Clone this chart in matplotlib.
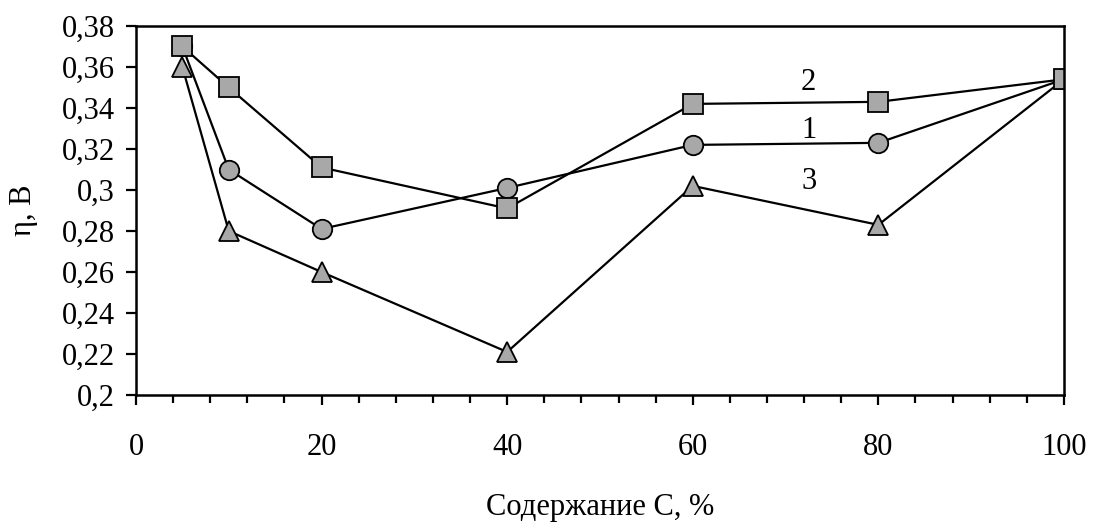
import matplotlib
matplotlib.use('Agg')
import matplotlib.pyplot as plt
from matplotlib.ticker import MultipleLocator, FuncFormatter

plt.rcParams['font.family'] = ['Liberation Serif', 'DejaVu Serif']

x = [5, 10, 20, 40, 60, 80, 100]
eta1 = [0.37, 0.31, 0.281, 0.301, 0.322, 0.323, 0.354]
eta2 = [0.37, 0.35, 0.311, 0.291, 0.342, 0.343, 0.354]
eta3 = [0.36, 0.28, 0.26, 0.221, 0.302, 0.283, 0.354]
labels = ['1', '2', '3']
label_pos = [(72.5, 0.329), (72.5, 0.3525), (72.5, 0.304)]

fig = plt.figure(figsize=(10.93, 5.26), dpi=100)
ax = fig.add_axes([0.1244, 0.249, 0.849, 0.7016])

mk = dict(color='black', lw=1.6, markerfacecolor='#a8a8a8',
          markeredgecolor='black', markeredgewidth=1.3, markersize=14)
ax.plot(x, eta1, marker='o', **mk)
ax.plot(x, eta3, marker='^', **mk)
ax.plot(x, eta2, marker='s', **mk)

for lab, (lx, ly) in zip(labels, label_pos):
    ax.text(lx, ly, lab, fontsize=22, ha='center', va='center')

ax.set_xlim(0, 100)
ax.set_ylim(0.2, 0.38)
ax.xaxis.set_major_locator(MultipleLocator(20))
ax.xaxis.set_minor_locator(MultipleLocator(4))
ax.yaxis.set_major_locator(MultipleLocator(0.02))
ax.yaxis.set_major_formatter(FuncFormatter(lambda v, p: ('%g' % round(v, 2)).replace('.', ',')))

ax.tick_params(axis='both', which='major', direction='out', length=7, width=1.6,
               labelsize=22)
ax.tick_params(axis='x', which='major', pad=20)
ax.tick_params(axis='y', which='major', pad=8)
ax.tick_params(axis='x', which='minor', direction='out', length=6, width=1.6)
for s in ax.spines.values():
    s.set_linewidth(1.8)

ax.set_xlabel('Содержание С, %', fontsize=22)
ax.xaxis.set_label_coords(0.5, -0.265)
ax.set_ylabel('η, В', fontsize=22)
ax.yaxis.set_label_coords(-0.106, 0.5)

plt.savefig('out.png', dpi=100)
